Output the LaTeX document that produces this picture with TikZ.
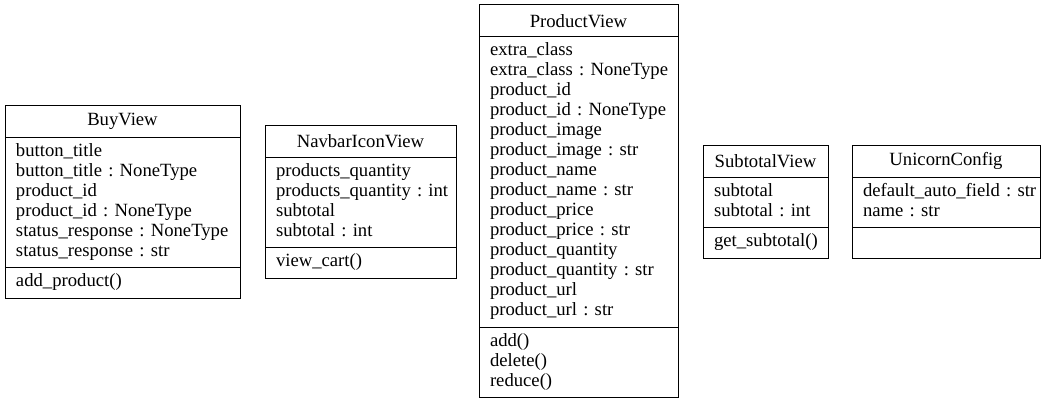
\documentclass[tikz,border=0pt]{standalone}
\usepackage{fontspec}
\setmainfont{Liberation Serif}
\usetikzlibrary{positioning}
\newcommand{\umlfont}{\fontsize{18.67}{20}\selectfont\frenchspacing
  \hyphenpenalty=10000\relax\hbadness=10000\relax\hfuzz=5pt\relax}

\begin{document}
\begin{tikzpicture}[x=1pt, y=-1pt,
      every node/.style = {shape=rectangle, draw, line width=1pt,
        inner sep=0pt, outer sep=0pt, font=\umlfont},
      classname/.style = {anchor=north west, minimum height=32pt, align=center},
      members/.style = {align=left, inner xsep=11pt, inner ysep=5pt,
        execute at begin node=\strut, execute at end node=\strut}]
  \useasboundingbox (0,0) rectangle (1047,404);

  % BuyView
  \node[classname, minimum width=235pt] (buy) at (5,105) {BuyView};
  \node[members, text width=213pt, minimum height=130pt, below=0pt of buy] (buyattr)
    {button\_title\\button\_title~:~NoneType\\product\_id\\product\_id~:~NoneType\\status\_response~:~NoneType\\status\_response~:~str};
  \node[members, text width=213pt, minimum height=31pt, below=0pt of buyattr] (buyops)
    {add\_product()};

  % NavbarIconView
  \node[classname, minimum width=191pt] (navbar) at (265,125) {NavbarIconView};
  \node[members, text width=169pt, minimum height=90pt, below=0pt of navbar] (navbarattr)
    {products\_quantity\\products\_quantity~:~int\\subtotal\\subtotal~:~int};
  \node[members, text width=169pt, minimum height=31pt, below=0pt of navbarattr] (navbarops)
    {view\_cart()};

  % ProductView
  \node[classname, minimum width=199pt] (product) at (479,5) {ProductView};
  \node[members, text width=177pt, minimum height=290pt, below=0pt of product] (productattr)
    {extra\_class\\extra\_class~:~NoneType\\product\_id\\product\_id~:~NoneType\\product\_image\\product\_image~:~str\\product\_name\\product\_name~:~str\\product\_price\\product\_price~:~str\\product\_quantity\\product\_quantity~:~str\\product\_url\\product\_url~:~str};
  \node[members, text width=177pt, minimum height=70pt, below=0pt of productattr] (productops)
    {add()\\delete()\\reduce()};

  % SubtotalView
  \node[classname, minimum width=125pt] (subtotal) at (703,145) {SubtotalView};
  \node[members, text width=103pt, minimum height=50pt, below=0pt of subtotal] (subtotalattr)
    {subtotal\\subtotal~:~int};
  \node[members, text width=103pt, minimum height=31pt, below=0pt of subtotalattr] (subtotalops)
    {get\_subtotal()};

  % UnicornConfig
  \node[classname, minimum width=188pt] (unicorn) at (852,145) {UnicornConfig};
  \node[members, text width=166pt, minimum height=50pt, below=0pt of unicorn] (unicornattr)
    {default\_auto\_field~:~str\\name~:~str};
  \node[members, text width=166pt, minimum height=31pt, below=0pt of unicornattr] (unicornops) {};
\end{tikzpicture}
\end{document}
